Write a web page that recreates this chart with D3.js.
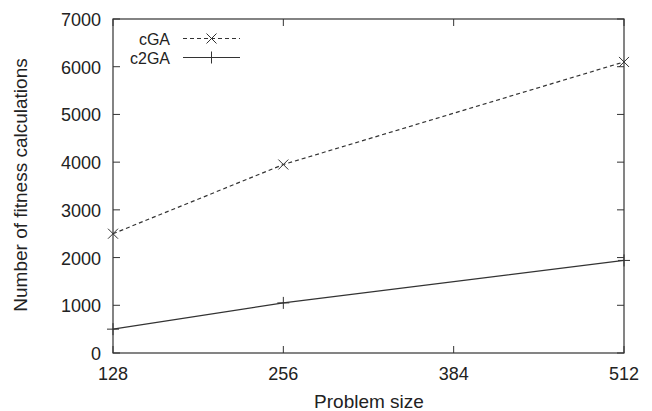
<!DOCTYPE html>
<html>
<head>
<meta charset="UTF-8">
<title>Fitness calculations</title>
<script src="https://d3js.org/d3.v7.min.js"></script>
<style>
  body { margin: 0; background: #fff; }
  text { font-family: "Liberation Sans", Arial, sans-serif; fill: #222; }
</style>
</head>
<body>
<script>
// Data
var problemSizes = [128, 256, 512];
var cgaValues = [2500, 3950, 6100];
var c2gaValues = [500, 1050, 1940];
var xTicks = [128, 256, 384, 512];
var yTicks = [0, 1000, 2000, 3000, 4000, 5000, 6000, 7000];

var W = 652, H = 411;
var margin = {top: 19, right: 28, bottom: 58, left: 113};
var width = W - margin.left - margin.right,
    height = H - margin.top - margin.bottom;

var svg = d3.select("body").append("svg")
    .attr("width", W).attr("height", H);

var g = svg.append("g")
    .attr("transform", "translate(" + margin.left + "," + margin.top + ")");

var x = d3.scaleLinear().domain([128, 512]).range([0, width]);
var y = d3.scaleLinear().domain([0, 7000]).range([height, 0]);

var ink = "#333";
var tickLen = 7;

// frame
g.append("rect")
    .attr("width", width).attr("height", height)
    .attr("fill", "none").attr("stroke", ink).attr("stroke-width", 1.2);

// mirrored inward ticks
xTicks.forEach(function(t) {
  g.append("line").attr("x1", x(t)).attr("x2", x(t))
      .attr("y1", height).attr("y2", height - tickLen).attr("stroke", ink);
  g.append("line").attr("x1", x(t)).attr("x2", x(t))
      .attr("y1", 0).attr("y2", tickLen).attr("stroke", ink);
  g.append("text").attr("x", x(t)).attr("y", height + 26.5)
      .attr("text-anchor", "middle").style("font-size", "18px").text(t);
});
yTicks.forEach(function(t) {
  g.append("line").attr("x1", 0).attr("x2", tickLen)
      .attr("y1", y(t)).attr("y2", y(t)).attr("stroke", ink);
  g.append("line").attr("x1", width).attr("x2", width - tickLen)
      .attr("y1", y(t)).attr("y2", y(t)).attr("stroke", ink);
  g.append("text").attr("x", -12).attr("y", y(t) + 7)
      .attr("text-anchor", "end").style("font-size", "18px").text(t);
});

// axis titles
svg.append("text").attr("x", 369).attr("y", 407.5)
    .attr("text-anchor", "middle").style("font-size", "19px").text("Problem size");
svg.append("text")
    .attr("transform", "translate(27,185) rotate(-90)")
    .attr("text-anchor", "middle").style("font-size", "19px")
    .text("Number of fitness calculations");

var line = d3.line()
    .x(function(d) { return x(d[0]); })
    .y(function(d) { return y(d[1]); });

var cga = problemSizes.map(function(s, i) { return [s, cgaValues[i]]; });
var c2ga = problemSizes.map(function(s, i) { return [s, c2gaValues[i]]; });

g.append("path").datum(cga).attr("d", line)
    .attr("fill", "none").attr("stroke", ink).attr("stroke-width", 1.2)
    .attr("stroke-dasharray", "4,3");
g.append("path").datum(c2ga).attr("d", line)
    .attr("fill", "none").attr("stroke", ink).attr("stroke-width", 1.2);

var m = 5;
function cross(sel, cx, cy) {
  sel.append("path")
      .attr("d", "M" + (cx - m) + "," + (cy - m) + "L" + (cx + m) + "," + (cy + m) +
                 "M" + (cx - m) + "," + (cy + m) + "L" + (cx + m) + "," + (cy - m))
      .attr("stroke", ink).attr("stroke-width", 1);
}
function plus(sel, cx, cy) {
  sel.append("path")
      .attr("d", "M" + (cx - m - 1) + "," + cy + "L" + (cx + m + 1) + "," + cy +
                 "M" + cx + "," + (cy - m - 1) + "L" + cx + "," + (cy + m + 1))
      .attr("stroke", ink).attr("stroke-width", 1);
}
cga.forEach(function(d) { cross(g, x(d[0]), y(d[1])); });
c2ga.forEach(function(d) { plus(g, x(d[0]), y(d[1])); });

// legend
var legend = svg.append("g");
var rows = [{name: "cGA", dash: "4,3", mark: cross, y: 38.5},
            {name: "c2GA", dash: null, mark: plus, y: 57.5}];
rows.forEach(function(r) {
  legend.append("text").attr("x", 170).attr("y", r.y + 6)
      .attr("text-anchor", "end").style("font-size", "16px").text(r.name);
  legend.append("line").attr("x1", 183).attr("x2", 240)
      .attr("y1", r.y).attr("y2", r.y)
      .attr("stroke", ink).attr("stroke-width", 1.2)
      .attr("stroke-dasharray", r.dash);
  r.mark(legend, 211.5, r.y);
});
</script>
</body>
</html>
